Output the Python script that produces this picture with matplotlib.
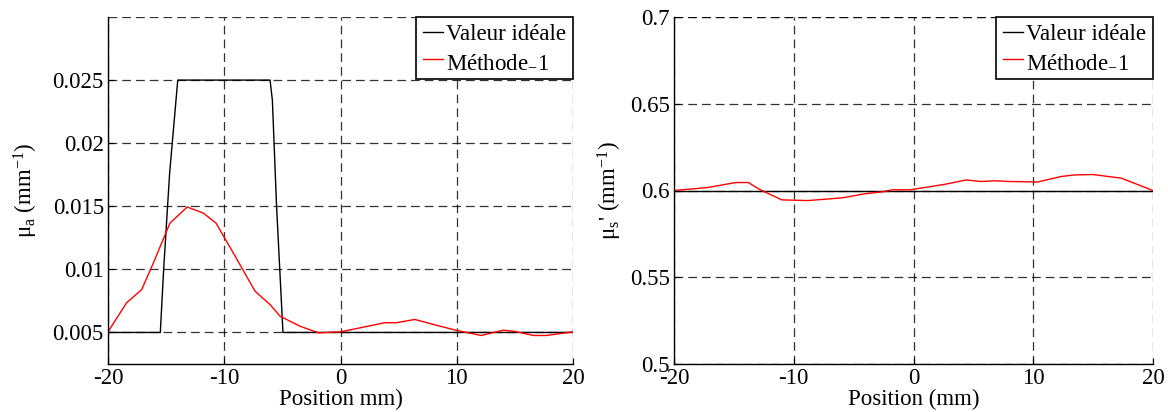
import matplotlib
matplotlib.use("Agg")
import matplotlib.pyplot as plt

plt.rcParams['font.family'] = ['Liberation Serif', 'DejaVu Serif']
plt.rcParams['mathtext.fontset'] = 'custom'
plt.rcParams['mathtext.rm'] = 'Liberation Serif'
plt.rcParams['mathtext.it'] = 'Liberation Serif:italic'

# Left panel: absorption
ideal_a_x = [-20, -15.5, -15.2, -14.7, -14.0, -6.06, -5.86, -5.5, -4.95, 20]
ideal_a_y = [0.005, 0.005, 0.0102, 0.0176, 0.025, 0.025, 0.0234, 0.015, 0.005, 0.005]
meth_a_x = [-20, -18.4, -17.1, -16.1, -14.67, -13.18, -11.8, -10.71, -9.22, -7.35, -6.06, -5.2,
            -3.5, -1.9, 0, 1.96, 3.8, 4.8, 6.4, 8.0, 10.0, 12.1, 14.0, 14.9, 16.6, 17.7, 20]
meth_a_y = [0.00505, 0.00735, 0.0084, 0.0105, 0.01367, 0.01494, 0.01446, 0.01367, 0.0113, 0.00827,
            0.00721, 0.00629, 0.0055, 0.00497, 0.00505, 0.00542, 0.00577, 0.00577, 0.00603, 0.00563,
            0.00516, 0.00476, 0.00518, 0.0051, 0.00476, 0.00476, 0.00505]

# Right panel: reduced scattering
ideal_s_x = [-20, 20]
ideal_s_y = [0.6, 0.6]
meth_s_x = [-20, -17.2, -14.85, -13.8, -12.9, -11.0, -8.8, -5.9, -4.1, -2.65, -1.76, -0.3,
            2.65, 4.4, 5.6, 6.8, 7.9, 9.7, 10.3, 12.35, 13.5, 15.0, 17.35, 20]
meth_s_y = [0.6, 0.6017, 0.6046, 0.6046, 0.6008, 0.5946, 0.5942, 0.5958, 0.5981, 0.5992, 0.6004,
            0.6004, 0.6036, 0.6061, 0.6052, 0.6056, 0.6052, 0.605, 0.6048, 0.6081, 0.609, 0.6092,
            0.6071, 0.6]

xticks = [-20, -10, 0, 10, 20]
yticks_a = [0.005, 0.01, 0.015, 0.02, 0.025]
ytick_a_labels = ['0.005', '0.01', '0.015', '0.02', '0.025']
yticks_s = [0.5, 0.55, 0.6, 0.65, 0.7]
ytick_s_labels = ['0.5', '0.55', '0.6', '0.65', '0.7']

FS = 16.5
W, H = 1168, 412
fig = plt.figure(figsize=(W / 100, H / 100), dpi=100)
ax1 = fig.add_axes([108 / W, 1 - 364 / H, (573 - 108) / W, (364 - 17) / H])
ax2 = fig.add_axes([674 / W, 1 - 364 / H, (1153 - 674) / W, (364 - 17) / H])

grid_kw = dict(color='black', linestyle=(0, (7, 4)), linewidth=0.9, alpha=0.8)

def style(ax, yt, ytl, ylim, xlabel, ylabel, lpad):
    ax.set_xlim(-20, 20)
    ax.set_ylim(*ylim)
    ax.set_xticks(xticks)
    ax.set_xticklabels([str(v) for v in xticks])
    ax.set_yticks(yt)
    ax.set_yticklabels(ytl)
    ax.tick_params(direction='in', length=4, labelsize=FS, pad=3)
    ax.spines['top'].set_visible(False)
    ax.spines['right'].set_visible(False)
    for s in ('left', 'bottom'):
        ax.spines[s].set_linewidth(1.0)
    for v in xticks:
        ax.axvline(v, zorder=0, **grid_kw)
    for v in yt:
        ax.axhline(v, zorder=0, **grid_kw)
    ax.axhline(ylim[1], zorder=0, **grid_kw)
    ax.set_xlabel(xlabel, fontsize=FS, labelpad=0)
    ax.set_ylabel(ylabel, fontsize=FS, labelpad=lpad)

lab2 = 'Méthode$_{\\mathrm{-}}$1'
ax1.plot(ideal_a_x, ideal_a_y, color='black', linewidth=1.0, label='Valeur idéale')
ax1.plot(meth_a_x, meth_a_y, color='red', linewidth=1.0, label=lab2)
style(ax1, yticks_a, ytick_a_labels, (0.0025, 0.03), 'Position mm)',
      'μ$_{\\mathrm{a}}$ (mm$^{\\mathrm{-1}}$)', 9)

ax2.plot(ideal_s_x, ideal_s_y, color='black', linewidth=1.0, label='Valeur idéale')
ax2.plot(meth_s_x, meth_s_y, color='red', linewidth=1.0, label=lab2)
style(ax2, yticks_s, ytick_s_labels, (0.5, 0.7), 'Position (mm)',
      "μ$_{\\mathrm{s}}$' (mm$^{\\mathrm{-1}}$)", 4)

for ax in (ax1, ax2):
    leg = ax.legend(loc='upper right', fontsize=FS, handlelength=0.85, handletextpad=0.15,
                    borderpad=0.3, labelspacing=0.25, borderaxespad=0.0, fancybox=False,
                    framealpha=1, edgecolor='black')
    leg.get_frame().set_linewidth(1.2)

fig.savefig('out.png', dpi=100)
